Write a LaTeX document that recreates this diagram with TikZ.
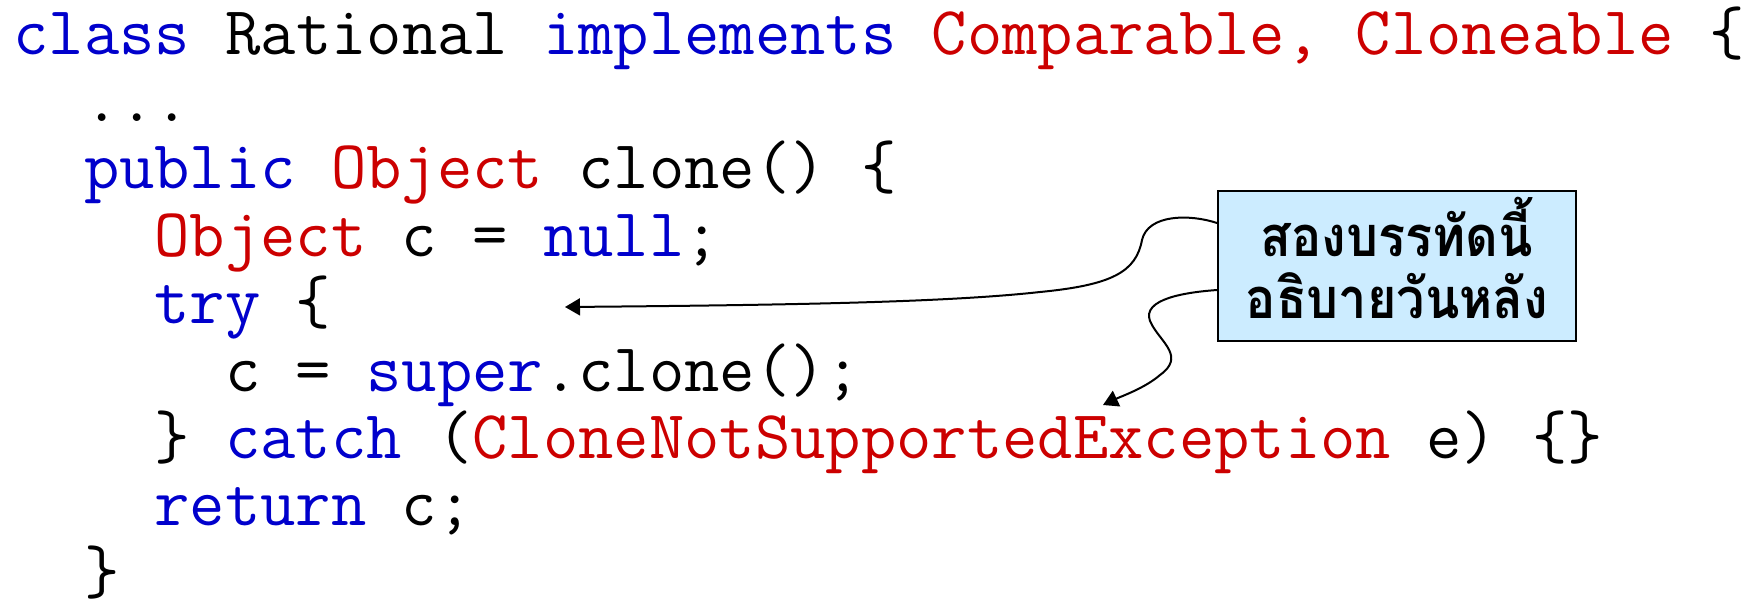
\documentclass[tikz,border=0pt]{standalone}
\usepackage{fontspec}
\usetikzlibrary{arrows.meta}
\newfontfamily\thaifont[Script=Thai,FakeStretch=0.9]{Loma}
\definecolor{kwblue}{RGB}{0,0,204}
\definecolor{kwred}{RGB}{204,0,0}
\definecolor{boxblue}{RGB}{204,236,255}
\newcommand{\kw}[1]{\textcolor{kwblue}{#1}}
\newcommand{\ty}[1]{\textcolor{kwred}{#1}}
\begin{document}
\begin{tikzpicture}[x=0.5pt,y=-0.5pt,
  codeline/.style={anchor=base west, inner sep=0pt, font=\ttfamily\fontsize{34.3}{34.3}\selectfont},
  notebox/.style={draw=black, line width=1pt, fill=boxblue, inner sep=0pt},
  notetext/.style={align=center, inner sep=0pt, font=\thaifont\bfseries\fontsize{28}{31.2}\selectfont},
  callout/.style={line width=1pt, -{Triangle[length=7.5pt,width=8.5pt]}}]
\useasboundingbox (0,0) rectangle (1747,600);
\def\cw{35.3}
\node[codeline] (l1) at (13,54) {\kw{class} Rational \kw{implements} \ty{Comparable, Cloneable} \{};
\node[codeline] (l2) at (13+2*\cw,121.4) {...};
\node[codeline] (l3) at (13+2*\cw,188.8) {\kw{public} \ty{Object} clone() \{};
\node[codeline] (l4) at (13+4*\cw,256.2) {\ty{Object} c = \kw{null};};
\node[codeline] (l5) at (13+4*\cw,323.6) {\kw{try} \{};
\node[codeline] (l6) at (13+6*\cw,391) {c = \kw{super}.clone();};
\node[codeline] (l7) at (13+4*\cw,458.4) {\} \kw{catch} (\ty{CloneNotSupportedException} e) \{\}};
\node[codeline] (l8) at (13+4*\cw,525.8) {\kw{return} c;};
\node[codeline] (l9) at (13+2*\cw,593.2) {\}};
% callout box
\node[notebox, minimum width=357.5*0.5pt, minimum height=150.5*0.5pt] (box) at (1396.75,265.75) {};
\node[notetext] (note) at (1397,258) {สองบรรทัดนี้\\อธิบายวันหลัง};
\coordinate (s1) at (box.west |- 0,223);
\coordinate (s2) at (box.west |- 0,290);
\coordinate (e1) at (565,307);
\coordinate (e2) at (1103,405);
\draw[callout] (s1) .. controls (1190,214) and (1148,214) .. (1142,240)
  .. controls (1136,272) and (1112,285) .. (1040,292)
  .. controls (950,302) and (800,305) .. (e1);
\draw[callout] (s2) .. controls (1175,293) and (1138,302) .. (1152,325)
  .. controls (1162,343) and (1185,357) .. (1160,375)
  .. controls (1145,388) and (1122,396) .. (e2);
\end{tikzpicture}
\end{document}
